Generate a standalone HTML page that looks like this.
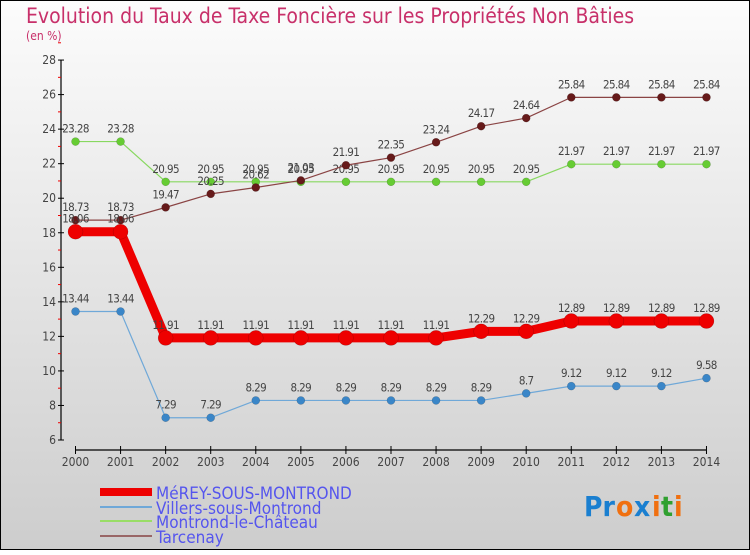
<!DOCTYPE html>
<html><head><meta charset="utf-8"><style>
body{margin:0;}
svg text{font-family:"DejaVu Sans Condensed","Liberation Sans Narrow","Liberation Sans",sans-serif;}
</style></head><body>
<svg width="750" height="550" viewBox="0 0 750 550" xmlns="http://www.w3.org/2000/svg">
<defs><linearGradient id="bg" x1="0" y1="0" x2="0" y2="1"><stop offset="0" stop-color="#fcfcfc"/><stop offset="1" stop-color="#cdcdcd"/></linearGradient></defs>
<rect x="0.5" y="0.5" width="749" height="549" fill="url(#bg)" stroke="#000"/>
<text x="26" y="23" font-size="21" fill="#c8306a">Evolution du Taux de Taxe Foncière sur les Propriétés Non Bâties</text>
<text x="26" y="40" font-size="12" fill="#c8306a">(en %)</text>
<g id="axes"></g>
<g id="series"></g>
<g id="legend">
<rect x="100" y="488" width="52" height="8" fill="#e00"/>
<text x="156" y="499" font-size="17" fill="#5555ee">MéREY-SOUS-MONTROND</text>
<rect x="100" y="506" width="52" height="2" fill="#6fa8d8"/>
<text x="156" y="514" font-size="17" fill="#5555ee">Villers-sous-Montrond</text>
<rect x="100" y="520" width="52" height="2" fill="#99dd66"/>
<text x="156" y="528" font-size="17" fill="#5555ee">Montrond-le-Château</text>
<rect x="100" y="535" width="52" height="2" fill="#996666"/>
<text x="156" y="543" font-size="17" fill="#5555ee">Tarcenay</text>
</g>
<g font-size="28" font-weight="bold">
<text x="584" y="516" fill="#1a7fd0">Pr</text><text x="616" y="516" fill="#f07010">o</text><text x="634" y="516" fill="#1a7fd0">x</text><text x="652" y="516" fill="#f07010">i</text><text x="661" y="516" fill="#30a030">t</text><text x="674" y="516" fill="#f07010">i</text>
</g>
</svg>
<script>
const years=[2000,2001,2002,2003,2004,2005,2006,2007,2008,2009,2010,2011,2012,2013,2014];
const yTicks=[6,8,10,12,14,16,18,20,22,24,26,28];
const merey=[18.06,18.06,11.91,11.91,11.91,11.91,11.91,11.91,11.91,12.29,12.29,12.89,12.89,12.89,12.89];
const villers=[13.44,13.44,7.29,7.29,8.29,8.29,8.29,8.29,8.29,8.29,8.7,9.12,9.12,9.12,9.58];
const montrond=[23.28,23.28,20.95,20.95,20.95,20.95,20.95,20.95,20.95,20.95,20.95,21.97,21.97,21.97,21.97];
const tarcenay=[18.73,18.73,19.47,20.25,20.62,21.03,21.91,22.35,23.24,24.17,24.64,25.84,25.84,25.84,25.84];
const NS='http://www.w3.org/2000/svg';
const X=i=>75.5+i*45.07;
const Y=v=>440-(v-6)*17.27;
function mk(t,a,p){const e=document.createElementNS(NS,t);for(const k in a)e.setAttribute(k,a[k]);p.appendChild(e);return e;}
const ax=document.getElementById('axes');
let yl=mk('line',{x1:61,y1:60,x2:61,y2:440,stroke:'#000','stroke-width':1.2},ax);


yTicks.forEach(v=>{
 mk('line',{x1:58,y1:Y(v),x2:64,y2:Y(v),stroke:'#000'},ax);
 mk('line',{x1:58,y1:Y(v+1),x2:61,y2:Y(v+1),stroke:'#e00'},ax);
 const t=mk('text',{x:56,y:Y(v)+4,'font-size':12,fill:'#444','text-anchor':'end'},ax);
 t.textContent=v;
 
 
});
let xl=mk('line',{x1:75.5,y1:450,x2:X(14),y2:450,stroke:'#000','stroke-width':1.2},ax);


years.forEach((y,i)=>{
 mk('line',{x1:X(i),y1:446,x2:X(i),y2:454,stroke:'#000'},ax);
 const t=mk('text',{x:X(i),y:466,'font-size':12,fill:'#444','text-anchor':'middle'},ax);
 t.textContent=y;
 
 
});
const sg=document.getElementById('series');
function draw(data,name,color,dot,lw,r){
 const g=mk('g',{},sg);
 
 
 mk('polyline',{points:data.map((v,i)=>X(i)+','+Y(v)).join(' '),fill:'none',stroke:color,'stroke-width':lw,'stroke-linejoin':'round'},g);
 data.forEach((v,i)=>{
  const c=mk('circle',{cx:X(i),cy:Y(v),r:r,fill:dot,stroke:'rgba(0,0,0,0.25)','stroke-width':0.5},g);
  
  
  const t=mk('text',{x:X(i),y:Y(v)-9,'font-size':11.5,fill:'#444','text-anchor':'middle','letter-spacing':'-0.6'},g);
  t.textContent=v;
  
  
 });
}
draw(montrond,'montrond','#88d860','#66cc33',1.2,4);
draw(tarcenay,'tarcenay','#8a4444','#661a1a',1.2,4);
draw(villers,'villers','#6fa8d8','#3a86c8',1.2,4);
draw(merey,'merey','#ee0000','#ee0000',9,7.5);
</script>
</body></html>
